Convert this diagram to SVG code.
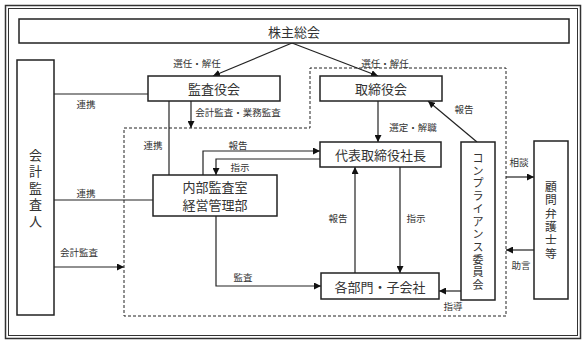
<svg xmlns="http://www.w3.org/2000/svg" width="587" height="344" viewBox="0 0 587 344">
<style>
.box{fill:#fff;stroke:#222;stroke-width:1.5}
.ln{fill:none;stroke:#222;stroke-width:1.2}
.dash{fill:none;stroke:#222;stroke-width:1;stroke-dasharray:3,2}
.t{font-family:"Noto Sans CJK JP",sans-serif;font-size:13px;fill:#333;text-anchor:middle;dominant-baseline:central}
.v{font-family:"Liberation Sans","Noto Sans CJK JP",sans-serif;fill:#333;text-anchor:middle;dominant-baseline:central}
.s{font-family:"Noto Sans CJK JP",sans-serif;font-size:9.5px;fill:#333;text-anchor:middle;dominant-baseline:central}
</style>
<defs>
<marker id="ah" viewBox="0 0 10 10" refX="10" refY="5" markerWidth="7" markerHeight="7" markerUnits="userSpaceOnUse" orient="auto"><path d="M0,0L10,5L0,10z" fill="#111"/></marker>
</defs>
<rect x="0" y="0" width="587" height="344" fill="#fff"/>
<rect x="5.5" y="5.5" width="575" height="333" fill="none" stroke="#333" stroke-width="1.5"/>
<rect x="8.5" y="8.5" width="569" height="327" fill="none" stroke="#333" stroke-width="1"/>
<g id="region"><path class="dash" d="M124,128H310V68H506V316H124Z"/></g>
<g id="connectors">
<path class="ln" d="M292,43L213,76" marker-end="url(#ah)"/>
<path class="ln" d="M292,43L378,76" marker-end="url(#ah)"/>
<path class="ln" d="M191,101V128" marker-end="url(#ah)"/>
<path class="ln" d="M169,101V175"/>
<path class="ln" d="M54,94H148"/>
<path class="ln" d="M54,200H153"/>
<path class="ln" d="M54,267H124" marker-end="url(#ah)"/>
<path class="ln" d="M203,175V151H320" marker-end="url(#ah)"/>
<path class="ln" d="M320,159H216V175" marker-end="url(#ah)"/>
<path class="ln" d="M378,101V142" marker-end="url(#ah)"/>
<path class="ln" d="M477,142L428,101" marker-end="url(#ah)"/>
<path class="ln" d="M355,273V167" marker-end="url(#ah)"/>
<path class="ln" d="M400,167V273" marker-end="url(#ah)"/>
<path class="ln" d="M216,216V286H321" marker-end="url(#ah)"/>
<path class="ln" d="M461,291H439" marker-end="url(#ah)"/>
<path class="ln" d="M506,177H534" marker-end="url(#ah)"/>
<path class="ln" d="M534,250H506" marker-end="url(#ah)"/>
<text class="s" x="197" y="63">選任・解任</text>
<text class="s" x="385" y="63">選任・解任</text>
<text class="s" x="238" y="112">会計監査・業務監査</text>
<text class="s" x="153" y="145">連携</text>
<text class="s" x="86" y="104">連携</text>
<text class="s" x="86" y="193">連携</text>
<text class="s" x="79" y="252">会計監査</text>
<text class="s" x="238" y="145">報告</text>
<text class="s" x="240" y="167">指示</text>
<text class="s" x="413" y="127">選定・解職</text>
<text class="s" x="464" y="109">報告</text>
<text class="s" x="338" y="218">報告</text>
<text class="s" x="416" y="218">指示</text>
<text class="s" x="243" y="277">監査</text>
<text class="s" x="453" y="306">指導</text>
<text class="s" x="519" y="162">相談</text>
<text class="s" x="521" y="265">助言</text>
</g>
<g id="shareholders"><rect class="box" x="19" y="19" width="550" height="24"/><text class="t" x="294" y="31">株主総会</text></g>
<g id="auditor"><rect class="box" x="17" y="60" width="37" height="255"/>
<g class="v" style="font-size:13px"><text x="35.5" y="155">会</text><text x="35.5" y="171.5">計</text><text x="35.5" y="188">監</text><text x="35.5" y="204.5">査</text><text x="35.5" y="221">人</text></g></g>
<g id="kansayaku"><rect class="box" x="148" y="76" width="132" height="25"/><text class="t" x="214" y="88.5">監査役会</text></g>
<g id="torishimariyaku"><rect class="box" x="320" y="76" width="122" height="25"/><text class="t" x="381" y="88.5">取締役会</text></g>
<g id="president"><rect class="box" x="320" y="142" width="121" height="25"/><text class="t" x="380.5" y="154.5">代表取締役社長</text></g>
<g id="internal"><rect class="box" x="153" y="175" width="124" height="41"/><text class="v" style="font-size:13px" x="215" y="187.5">内部監査室</text><text class="v" style="font-size:13px" x="215" y="205">経営管理部</text></g>
<g id="divisions"><rect class="box" x="321" y="273" width="118" height="26"/><text class="t" x="380" y="286">各部門・子会社</text></g>
<g id="compliance"><rect class="box" x="461" y="142" width="34" height="158"/>
<g class="v" style="font-size:11px"><text x="478" y="158">コ</text><text x="478" y="170.7">ン</text><text x="478" y="183.4">プ</text><text x="478" y="196.1">ラ</text><text x="478" y="208.8">イ</text><text x="478" y="221.5">ア</text><text x="478" y="234.2">ン</text><text x="478" y="246.9">ス</text><text x="478" y="259.6">委</text><text x="478" y="272.3">員</text><text x="478" y="285">会</text></g></g>
<g id="lawyer"><rect class="box" x="534" y="141" width="34" height="158"/>
<g class="v" style="font-size:11.8px"><text x="551" y="187">顧</text><text x="551" y="200.3">問</text><text x="551" y="213.6">弁</text><text x="551" y="226.9">護</text><text x="551" y="240.2">士</text><text x="551" y="253.5">等</text></g></g>
</svg>
